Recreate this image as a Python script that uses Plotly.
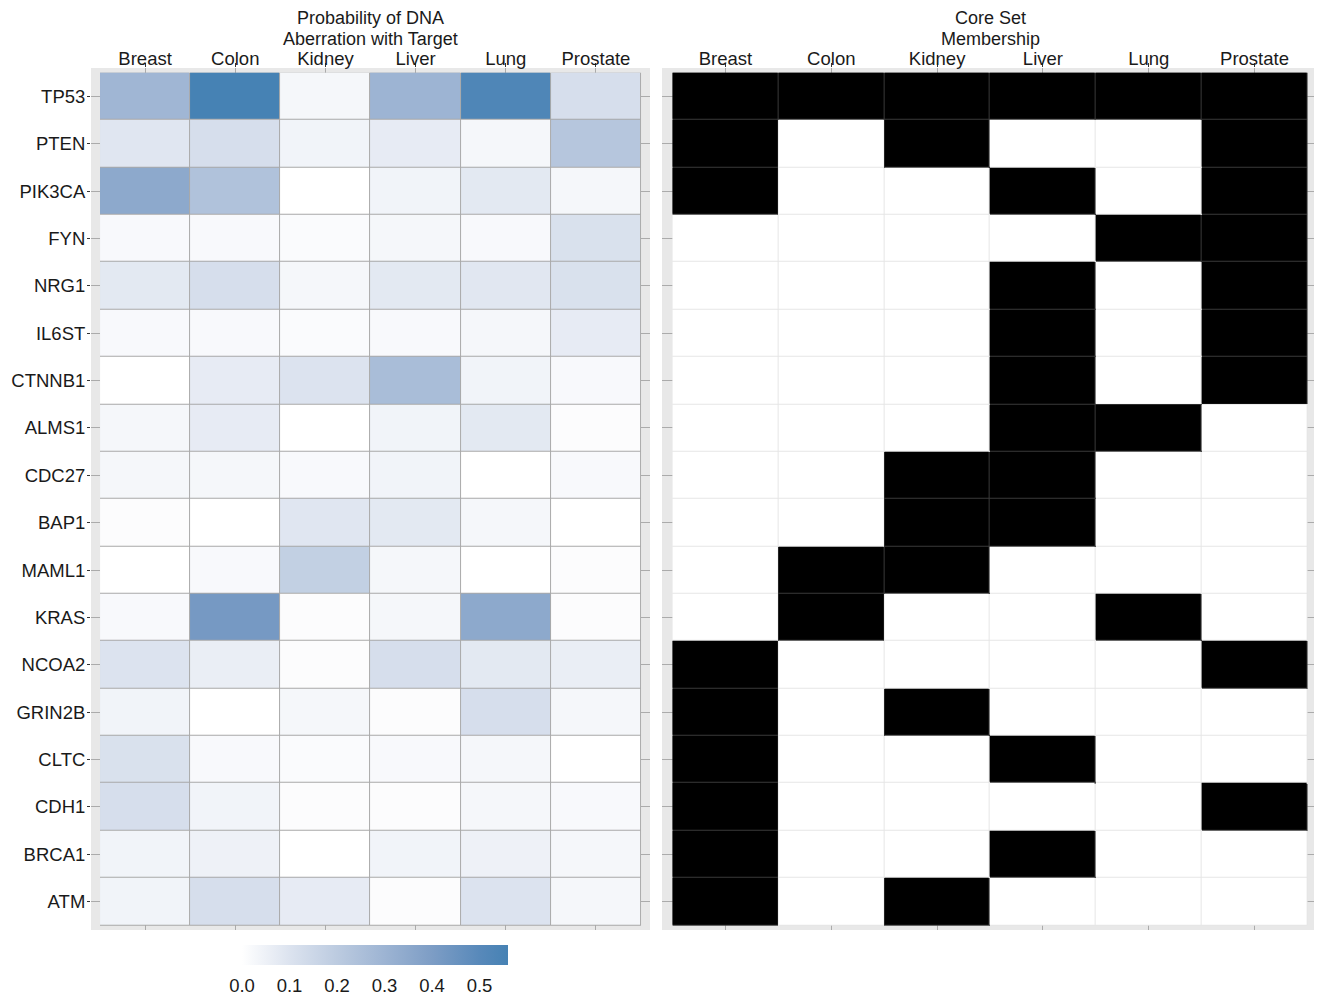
import plotly.graph_objects as go

W, H = 1322, 995
OFF = 8  # browser body margin offset (px)

tissues = ["Breast", "Colon", "Kidney", "Liver", "Lung", "Prostate"]
genes = ["TP53", "PTEN", "PIK3CA", "FYN", "NRG1", "IL6ST", "CTNNB1", "ALMS1",
         "CDC27", "BAP1", "MAML1", "KRAS", "NCOA2", "GRIN2B", "CLTC", "CDH1",
         "BRCA1", "ATM"]

# Probability of DNA aberration with target (rows = genes, cols = tissues)
prob_TP53   = [0.29, 0.56, 0.03, 0.30, 0.53, 0.12]
prob_PTEN   = [0.09, 0.12, 0.04, 0.07, 0.03, 0.22]
prob_PIK3CA = [0.35, 0.24, 0.00, 0.04, 0.08, 0.03]
prob_FYN    = [0.02, 0.02, 0.015, 0.03, 0.02, 0.11]
prob_NRG1   = [0.08, 0.12, 0.03, 0.08, 0.085, 0.11]
prob_IL6ST  = [0.02, 0.02, 0.015, 0.02, 0.03, 0.07]
prob_CTNNB1 = [0.00, 0.07, 0.10, 0.26, 0.04, 0.02]
prob_ALMS1  = [0.03, 0.07, 0.00, 0.04, 0.08, 0.01]
prob_CDC27  = [0.03, 0.03, 0.02, 0.04, 0.00, 0.02]
prob_BAP1   = [0.01, 0.00, 0.09, 0.08, 0.03, 0.00]
prob_MAML1  = [0.00, 0.02, 0.18, 0.03, 0.00, 0.01]
prob_KRAS   = [0.02, 0.42, 0.01, 0.03, 0.35, 0.01]
prob_NCOA2  = [0.10, 0.06, 0.01, 0.12, 0.08, 0.06]
prob_GRIN2B = [0.04, 0.00, 0.03, 0.01, 0.12, 0.03]
prob_CLTC   = [0.11, 0.02, 0.015, 0.02, 0.03, 0.00]
prob_CDH1   = [0.12, 0.04, 0.01, 0.01, 0.03, 0.02]
prob_BRCA1  = [0.04, 0.05, 0.00, 0.04, 0.05, 0.03]
prob_ATM    = [0.04, 0.12, 0.07, 0.01, 0.10, 0.03]

prob = [prob_TP53, prob_PTEN, prob_PIK3CA, prob_FYN, prob_NRG1, prob_IL6ST,
        prob_CTNNB1, prob_ALMS1, prob_CDC27, prob_BAP1, prob_MAML1, prob_KRAS,
        prob_NCOA2, prob_GRIN2B, prob_CLTC, prob_CDH1, prob_BRCA1, prob_ATM]

# Core set membership (1 = member)
core_TP53   = [1, 1, 1, 1, 1, 1]
core_PTEN   = [1, 0, 1, 0, 0, 1]
core_PIK3CA = [1, 0, 0, 1, 0, 1]
core_FYN    = [0, 0, 0, 0, 1, 1]
core_NRG1   = [0, 0, 0, 1, 0, 1]
core_IL6ST  = [0, 0, 0, 1, 0, 1]
core_CTNNB1 = [0, 0, 0, 1, 0, 1]
core_ALMS1  = [0, 0, 0, 1, 1, 0]
core_CDC27  = [0, 0, 1, 1, 0, 0]
core_BAP1   = [0, 0, 1, 1, 0, 0]
core_MAML1  = [0, 1, 1, 0, 0, 0]
core_KRAS   = [0, 1, 0, 0, 1, 0]
core_NCOA2  = [1, 0, 0, 0, 0, 1]
core_GRIN2B = [1, 0, 1, 0, 0, 0]
core_CLTC   = [1, 0, 0, 1, 0, 0]
core_CDH1   = [1, 0, 0, 0, 0, 1]
core_BRCA1  = [1, 0, 0, 1, 0, 0]
core_ATM    = [1, 0, 1, 0, 0, 0]

core = [core_TP53, core_PTEN, core_PIK3CA, core_FYN, core_NRG1, core_IL6ST,
        core_CTNNB1, core_ALMS1, core_CDC27, core_BAP1, core_MAML1, core_KRAS,
        core_NCOA2, core_GRIN2B, core_CLTC, core_CDH1, core_BRCA1, core_ATM]

colorbar_ticks = [0.0, 0.1, 0.2, 0.3, 0.4, 0.5]
zmax = 0.56

left_title = ["Probability of DNA", "Aberration with Target"]
right_title = ["Core Set", "Membership"]

blue_scale = [
    [0.0, "#FFFFFF"],
    [0.1 / zmax, "#DCE3EF"],
    [0.2 / zmax, "#BCCBE0"],
    [0.3 / zmax, "#9DB4D3"],
    [0.4 / zmax, "#7D9DC5"],
    [0.5 / zmax, "#5889BA"],
    [1.0, "#4682B4"],
]

FONT = "Liberation Sans, Arial, Helvetica, sans-serif"
TXT = "#1a1a1a"
FS = 18.5
FS_TITLE = 18


def px(x):
    return (x - OFF) / W


def py(y):
    return 1 - (y - OFF) / H


fig = go.Figure()

# left panel: underlay for cell borders
fig.add_trace(go.Heatmap(
    z=prob, x=tissues, y=genes, xaxis="x", yaxis="y",
    colorscale=[[0, "#A9A9A9"], [1, "#A9A9A9"]], showscale=False,
    hoverinfo="skip"))
fig.add_trace(go.Heatmap(
    z=prob, x=tissues, y=genes, xaxis="x", yaxis="y",
    colorscale=blue_scale, zmin=0, zmax=zmax, xgap=1, ygap=1,
    colorbar=dict(
        orientation="h", lenmode="pixels", len=266, thickness=20,
        x=px(375), xanchor="center", y=py(945), yanchor="top",
        xpad=0, ypad=0, outlinewidth=0,
        tickvals=colorbar_ticks, ticktext=[f"{v:.1f}" for v in colorbar_ticks],
        ticks="outside", ticklen=5, tickcolor="rgba(255,255,255,0)",
        tickfont=dict(family=FONT, size=FS, color=TXT),
    ),
    hovertemplate="%{y} / %{x}: %{z:.2f}<extra></extra>"))

# right panel: underlay for cell borders
fig.add_trace(go.Heatmap(
    z=core, x=tissues, y=genes, xaxis="x2", yaxis="y2",
    colorscale=[[0, "#E6E6E6"], [1, "#3A3A3A"]], zmin=0, zmax=1,
    showscale=False, hoverinfo="skip"))
fig.add_trace(go.Heatmap(
    z=core, x=tissues, y=genes, xaxis="x2", yaxis="y2",
    colorscale=[[0, "#FFFFFF"], [1, "#000000"]], zmin=0, zmax=1,
    xgap=1, ygap=1, showscale=False,
    hovertemplate="%{y} / %{x}: %{z}<extra></extra>"))

xcommon = dict(
    side="top", range=[-0.6, 5.6], ticks="outside", ticklen=4,
    tickcolor="#333333", tickwidth=1, showgrid=True, gridcolor="#ABABAB",
    gridwidth=1, zeroline=False, showline=False, automargin=False,
    ticklabelstandoff=-9,
    tickfont=dict(family=FONT, size=FS, color=TXT), fixedrange=True,
)
ydom = [py(930), py(68)]


def title_annots(lines, xc):
    out = []
    for i, t in enumerate(lines):
        out.append(dict(text=t, x=px(xc), y=py(18.3 + 20.3 * i),
                        xref="paper", yref="paper", xanchor="center",
                        yanchor="middle", showarrow=False, borderpad=0,
                        font=dict(family=FONT, size=FS_TITLE, color=TXT)))
    return out


fig.update_layout(
    width=W, height=H,
    margin=dict(l=0, r=0, t=0, b=0, autoexpand=False),
    paper_bgcolor="white", plot_bgcolor="#E8E8E8",
    xaxis=dict(domain=[px(91), px(650)], anchor="y", **xcommon),
    xaxis2=dict(domain=[px(662), px(1318)], anchor="y2", **xcommon),
    yaxis=dict(domain=ydom, anchor="x", range=[17.6, -0.6],
               ticks="outside", ticklen=3, tickcolor="#333333",
               showgrid=True, gridcolor="#ABABAB", zeroline=False,
               automargin=False,
               tickfont=dict(family=FONT, size=FS, color=TXT),
               ticklabelstandoff=-2, fixedrange=True),
    yaxis2=dict(domain=ydom, anchor="x2", range=[17.6, -0.6],
                showticklabels=False, ticks="", automargin=False,
                showgrid=True, gridcolor="#ABABAB", zeroline=False,
                fixedrange=True),
    annotations=title_annots(left_title, 370.5) + title_annots(right_title, 990),
)

fig.write_html("out.html")
